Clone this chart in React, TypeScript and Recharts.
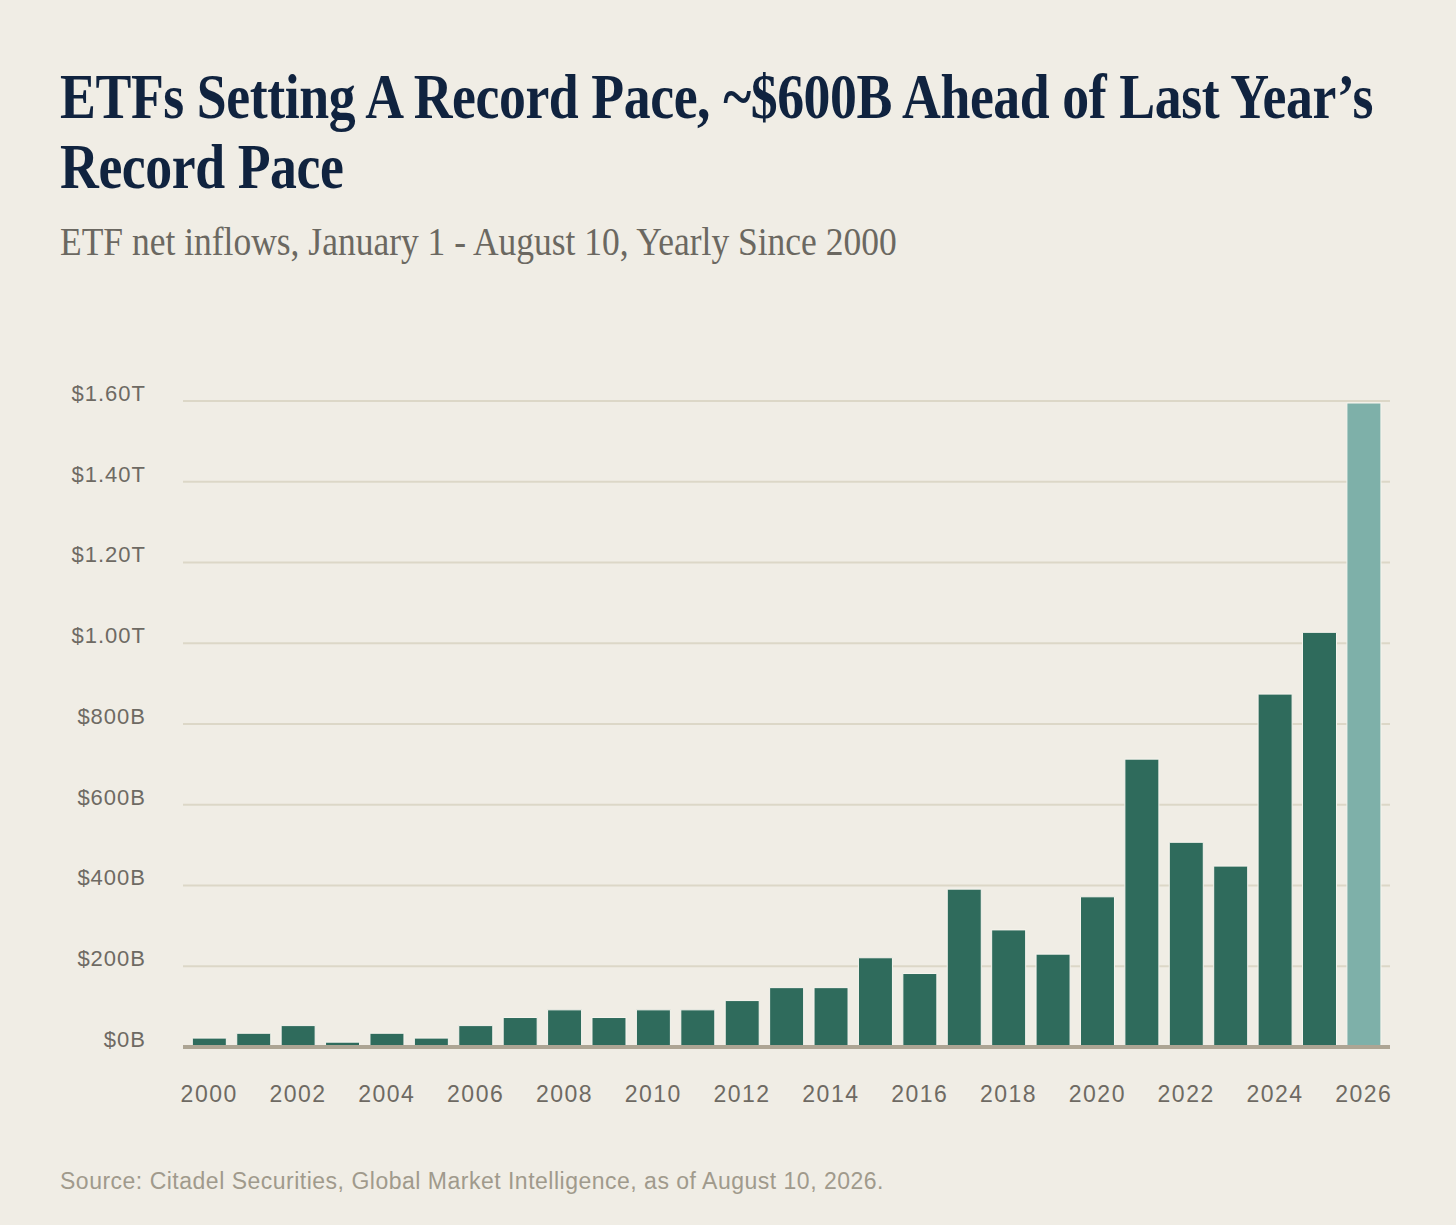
import React from 'react';
import { BarChart, Bar, XAxis, YAxis, CartesianGrid, Cell } from 'recharts';

// ETF net inflows Jan 1 - Aug 10, in $B
const years = [
  '2000', '2001', '2002', '2003', '2004', '2005', '2006', '2007', '2008',
  '2009', '2010', '2011', '2012', '2013', '2014', '2015', '2016', '2017',
  '2018', '2019', '2020', '2021', '2022', '2023', '2024', '2025', '2026',
];
const inflows = [
  22, 34, 53, 12, 34, 22, 53, 73, 92,
  73, 92, 92, 115, 147, 147, 221, 182, 391,
  290, 230, 372, 713, 507, 448, 874, 1027, 1595,
];
const yTicks = [0, 200, 400, 600, 800, 1000, 1200, 1400, 1600];
const currentYear = '2026';

const data = years.map((year, i) => ({ year, value: inflows[i] }));

const formatY = (v: number) => (v >= 1000 ? `$${(v / 1000).toFixed(2)}T` : `$${v}B`);

const BG = '#f0ede5';
const sans = '"Liberation Sans", Arial, sans-serif';
const yTickStyle = { fill: '#6e6a63', fontSize: 22, fontFamily: sans, letterSpacing: 1, dy: -8 };
const xTickStyle = { fill: '#6e6a63', fontSize: 23, fontFamily: sans, letterSpacing: 1.5 };

const App: React.FC = () => {
  return (
    <div style={{ position: 'absolute', left: 0, top: 0, width: 1456, height: 1225, background: BG, overflow: 'hidden' }}>
      <div
        style={{
          position: 'absolute', left: 60, top: 62, width: 1700,
          fontFamily: '"Liberation Serif", "Times New Roman", serif', fontWeight: 700,
          fontSize: 64, lineHeight: '70px', color: '#10233f',
          transform: 'scaleX(0.84)', transformOrigin: 'left top', letterSpacing: -0.5,
        }}
      >
        ETFs Setting A Record Pace, ~$600B Ahead of Last Year’s
        <br />
        Record Pace
      </div>
      <div
        style={{
          position: 'absolute', left: 60, top: 218, width: 1200,
          fontFamily: '"Liberation Serif", "Times New Roman", serif',
          fontSize: 40, lineHeight: '48px', color: '#6b6861',
          transform: 'scaleX(0.887)', transformOrigin: 'left top',
        }}
      >
        ETF net inflows, January 1 - August 10, Yearly Since 2000
      </div>

      <div style={{ position: 'absolute', left: 0, top: 380 }}>
        <BarChart width={1456} height={760} data={data} margin={{ top: 21, right: 66, bottom: 33, left: 0 }} barCategoryGap="12%">
          <CartesianGrid vertical={false} stroke="#dcd7c7" strokeWidth={2} />
          <XAxis
            dataKey="year"
            interval={1}
            height={60}
            padding={{ left: 4, right: 4 }}
            tickLine={false}
            tickMargin={33}
            axisLine={{ stroke: '#ada594', strokeWidth: 4 }}
            tick={xTickStyle}
          />
          <YAxis
            width={183}
            domain={[0, 1600]}
            ticks={yTicks}
            tickFormatter={formatY}
            axisLine={false}
            tickLine={false}
            tickMargin={31}
            tick={yTickStyle}
          />
          <Bar dataKey="value" isAnimationActive={false} stroke="#f7f5ef" strokeWidth={1}>
            {data.map((entry) => (
              <Cell key={entry.year} fill={entry.year === currentYear ? '#7eb0a9' : '#2f6b5c'} />
            ))}
          </Bar>
        </BarChart>
      </div>

      <div
        style={{
          position: 'absolute', left: 60, top: 1168,
          fontFamily: sans, fontSize: 23, letterSpacing: 0.5,
          color: '#a09a8c',
        }}
      >
        Source: Citadel Securities, Global Market Intelligence, as of August 10, 2026.
      </div>
    </div>
  );
};

export default App;
